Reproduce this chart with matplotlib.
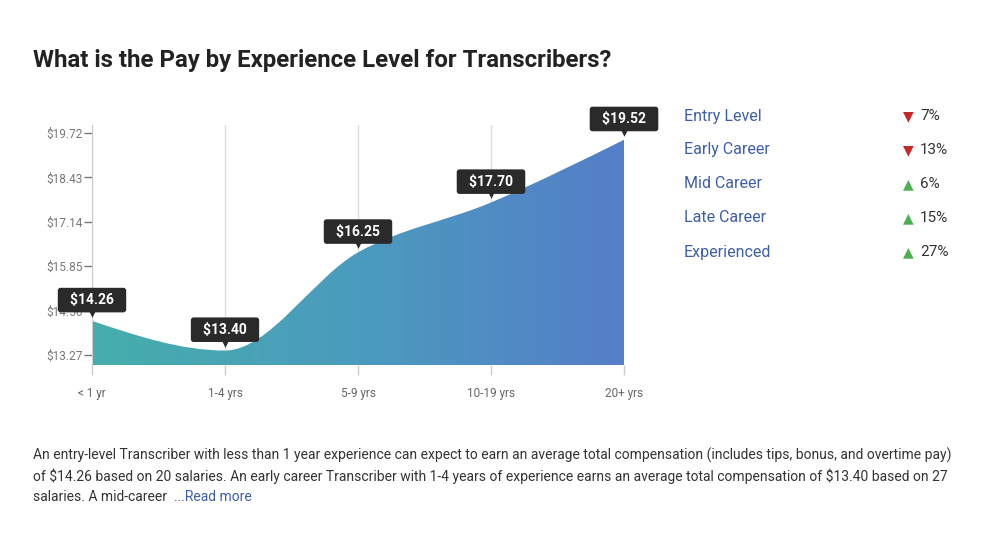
import numpy as np
import matplotlib.pyplot as plt
from matplotlib.path import Path
from matplotlib.patches import PathPatch
from matplotlib.colors import LinearSegmentedColormap
from matplotlib.transforms import offset_copy

plt.rcParams['font.family'] = ['Roboto', 'DejaVu Sans']
plt.rcParams['text.parse_math'] = False

levels = ['< 1 yr', '1-4 yrs', '5-9 yrs', '10-19 yrs', '20+ yrs']
pay = [14.26, 13.40, 16.25, 17.70, 19.52]
yticks = [13.27, 14.56, 15.85, 17.14, 18.43, 19.72]

legend_names = ['Entry Level', 'Early Career', 'Mid Career', 'Late Career', 'Experienced']
legend_pct = [7, 13, 6, 15, 27]
legend_up = [False, False, True, True, True]

title = 'What is the Pay by Experience Level for Transcribers?'
para = [
    'An entry-level Transcriber with less than 1 year experience can expect to earn an average total compensation (includes tips, bonus, and overtime pay)',
    'of $14.26 based on 20 salaries. An early career Transcriber with 1-4 years of experience earns an average total compensation of $13.40 based on 27',
    'salaries. A mid-career ',
]


def slopes(x, y):
    # monotone-x tangents (same rule d3 uses)
    n = len(x)
    h = np.diff(x)
    s = np.diff(y) / h
    t = np.zeros(n)
    for i in range(1, n - 1):
        p = (s[i - 1] * h[i] + s[i] * h[i - 1]) / (h[i - 1] + h[i])
        t[i] = (np.sign(s[i - 1]) + np.sign(s[i])) * min(abs(s[i - 1]), abs(s[i]), 0.5 * abs(p))
    t[0] = (3 * s[0] - t[1]) / 2
    t[-1] = (3 * s[-1] - t[-2]) / 2
    return t


x = np.arange(len(pay), dtype=float)
y = np.array(pay)
t = slopes(x, y)
ymin, ymax = 12.98, 19.95

verts = [(x[0], ymin), (x[0], y[0])]
codes = [Path.MOVETO, Path.LINETO]
for i in range(len(x) - 1):
    dx = (x[i + 1] - x[i]) / 3
    verts += [(x[i] + dx, y[i] + dx * t[i]), (x[i + 1] - dx, y[i + 1] - dx * t[i + 1]), (x[i + 1], y[i + 1])]
    codes += [Path.CURVE4] * 3
verts += [(x[-1], ymin), (x[0], ymin)]
codes += [Path.LINETO, Path.CLOSEPOLY]

fig = plt.figure(figsize=(10, 5.6), dpi=100)
ax = fig.add_axes([0.092, 1 - 365 / 560, 0.532, 240 / 560])
ax.set_xlim(0, 4)
ax.set_ylim(ymin, ymax)

for xi in x:
    ax.axvline(xi, color='#dddddd', lw=1, zorder=0)

patch = PathPatch(Path(verts, codes), fc='none', ec='none')
ax.add_patch(patch)
cmap = LinearSegmentedColormap.from_list('g', ['#46aeac', '#4b9bbe', '#557ec8'])
img = ax.imshow(np.linspace(0, 1, 256).reshape(1, -1), cmap=cmap, aspect='auto',
                extent=[0, 4, ymin, ymax], zorder=1)
img.set_clip_path(patch)

# tooltips
tri = offset_copy(ax.transData, fig=fig, x=0, y=7, units='dots')
for xi, v in zip(x, pay):
    ax.annotate('  $%.2f  ' % v, xy=(xi, v), xytext=(0, 15), textcoords='offset points',
                ha='center', va='center', color='white', fontsize=10, fontweight='bold',
                bbox=dict(boxstyle='round,pad=0.38,rounding_size=0.2', fc='#2b2a2a', ec='none'),
                zorder=5, annotation_clip=False)
    ax.scatter([xi], [v], marker='v', s=22, color='#2b2a2a', transform=tri, zorder=5,
               clip_on=False, linewidths=0)

ax.set_yticks(yticks)
ax.set_yticklabels(['$%.2f' % v for v in yticks])
ax.set_xticks(x)
ax.set_xticklabels(levels)
ax.tick_params(axis='y', length=6, width=1, color='#777777', labelcolor='#777777',
               labelsize=8.5, pad=1)
ax.tick_params(axis='x', length=7, width=1, color='#cccccc', labelcolor='#666666',
               labelsize=8.5, pad=9)
for side in ['top', 'right', 'bottom']:
    ax.spines[side].set_visible(False)
ax.spines['left'].set_color('#cccccc')

fig.text(0.033, 1 - 60 / 560, title, fontsize=17.3, fontweight='bold', color='#222222',
         va='center')

for i, name in enumerate(legend_names):
    yy = 1 - (116 + 34 * i) / 560
    fig.text(0.684, yy, name, fontsize=11.5, color='#3e5fa8', va='center')
    if legend_up[i]:
        fig.text(0.903, yy, '▲', fontsize=10, color='#4caf50', va='center',
                 family='DejaVu Sans')
    else:
        fig.text(0.903, yy, '▼', fontsize=10, color='#c62828', va='center',
                 family='DejaVu Sans')
    fig.text(0.920, yy, '%d%%' % legend_pct[i], fontsize=11, color='#333333', va='center')

for i, line in enumerate(para):
    t_ = fig.text(0.033, 1 - (455 + 21 * i) / 560, line, fontsize=10, color='#333333',
                  va='center')
fig.canvas.draw()
bb = t_.get_window_extent()
fig.text(bb.x1 / 1000 + 0.003, 1 - 497 / 560, '...Read more', fontsize=10,
         color='#3e5fa8', va='center')

fig.savefig('out.png', dpi=100, facecolor='white')
